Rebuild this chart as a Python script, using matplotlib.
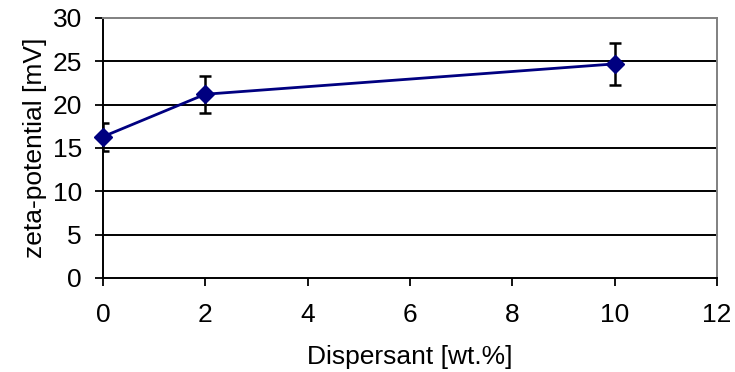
import matplotlib
matplotlib.use("Agg")
import matplotlib.pyplot as plt

plt.rcParams['font.family'] = ['Liberation Sans', 'DejaVu Sans']

dispersant = [0, 2, 10]
zeta = [16.3, 21.2, 24.7]
zeta_err = [1.6, 2.15, 2.45]
xticks = [0, 2, 4, 6, 8, 10, 12]
yticks = [0, 5, 10, 15, 20, 25, 30]

fig = plt.figure(figsize=(7.35, 3.72), dpi=100)
ax = fig.add_axes([0.140, 0.2527, 0.8355, 0.699])

for y in yticks[1:-1]:
    ax.axhline(y, color='black', lw=1.4, zorder=1)

ax.errorbar(dispersant, zeta, yerr=zeta_err, fmt='none', ecolor='black',
            elinewidth=1.8, capsize=4.5, capthick=1.8, zorder=2)
ax.plot(dispersant, zeta, color='#000080', lw=2, marker='D', markersize=9,
        markerfacecolor='#000080', markeredgecolor='#000080', zorder=3,
        clip_on=False)

ax.set_xlim(0, 12)
ax.set_ylim(0, 30)
ax.set_xticks(xticks)
ax.set_yticks(yticks)
ax.tick_params(direction='out', length=6, width=1.3, labelsize=19)
ax.tick_params(axis='y', pad=9)
ax.tick_params(axis='x', pad=12)

for s in ['left', 'bottom']:
    ax.spines[s].set_color('black')
    ax.spines[s].set_linewidth(1.4)
for s in ['top', 'right']:
    ax.spines[s].set_color('#808080')
    ax.spines[s].set_linewidth(1.4)

ax.set_xlabel('Dispersant [wt.%]', fontsize=19, labelpad=13)
ax.set_ylabel('zeta-potential [mV]', fontsize=19, labelpad=4)

fig.savefig('out.png', dpi=100)
